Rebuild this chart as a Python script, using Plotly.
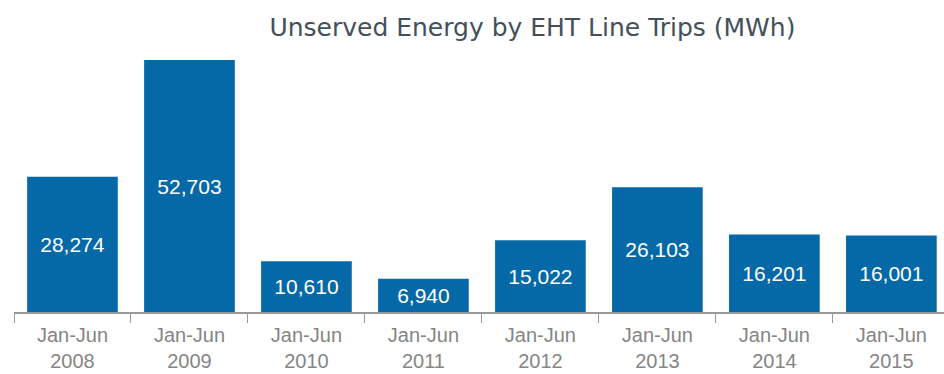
import plotly.graph_objects as go

periods = ["Jan-Jun<br>2008", "Jan-Jun<br>2009", "Jan-Jun<br>2010", "Jan-Jun<br>2011",
           "Jan-Jun<br>2012", "Jan-Jun<br>2013", "Jan-Jun<br>2014", "Jan-Jun<br>2015"]
unserved_mwh = [28274, 52703, 10610, 6940, 15022, 26103, 16201, 16001]

bar_color = "#0569a8"
font_family = "Liberation Sans, Arial, Helvetica, sans-serif"

fig = go.Figure(
    go.Bar(
        x=periods,
        y=unserved_mwh,
        marker=dict(color=bar_color, line=dict(width=0)),
        width=0.775,
        text=[f"{v:,}" for v in unserved_mwh],
        textposition="inside",
        insidetextanchor="middle",
        textangle=0,
        textfont=dict(color="white", size=21, family=font_family),
        cliponaxis=False,
    )
)

fig.update_layout(
    width=944,
    height=374,
    margin=dict(l=14, r=0, t=55, b=62),
    paper_bgcolor="white",
    plot_bgcolor="white",
    showlegend=False,
    title=dict(
        text="Unserved Energy by EHT Line Trips (MWh)",
        x=0.564,
        xanchor="center",
        y=0.927,
        yanchor="middle",
        font=dict(size=25, color="#435059", family="DejaVu Sans, sans-serif"),
    ),
    uniformtext=dict(mode=False),
)

fig.update_xaxes(
    range=[-0.5, 7.45],
    showline=True,
    linecolor="#9a9a9a",
    linewidth=1.5,
    ticks="outside",
    tickson="boundaries",
    ticklen=9,
    tickcolor="#9a9a9a",
    tickwidth=1,
    ticklabelstandoff=4,
    tickfont=dict(size=20, color="#858585", family=font_family),
    showgrid=False,
    zeroline=False,
)

fig.update_yaxes(
    range=[0, 53750],
    visible=False,
    showgrid=False,
    zeroline=False,
)

fig.write_html("out.html")
